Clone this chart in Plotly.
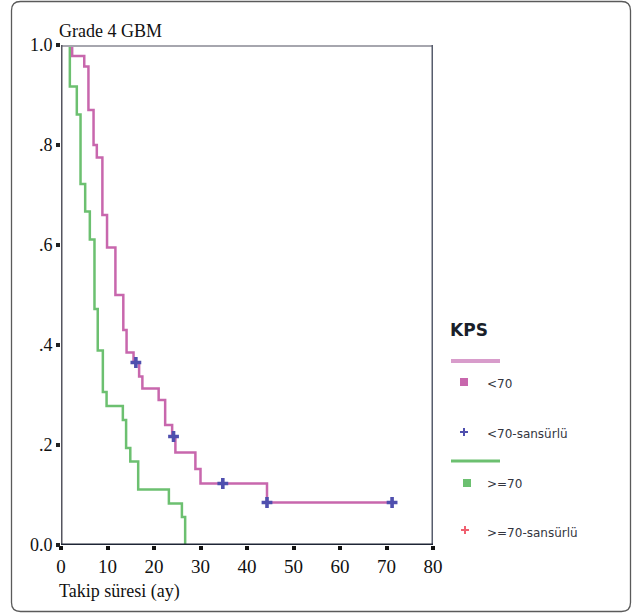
import plotly.graph_objects as go

# ---- data ----
pink_t = [0, 2.4, 5.0, 5.9, 7.0, 7.7, 8.9, 9.9, 11.7, 13.4, 14.1, 15.6, 16.8, 17.5,
          21.0, 22.4, 23.9, 24.6, 28.9, 30.0, 44.3, 71.2]
pink_s = [1.0, 0.978, 0.957, 0.870, 0.800, 0.775, 0.660, 0.595, 0.500, 0.430, 0.385,
          0.365, 0.337, 0.313, 0.290, 0.240, 0.217, 0.185, 0.152, 0.123, 0.085, 0.085]
pink_cens_t = [16.1, 24.2, 34.8, 44.3, 71.2]
pink_cens_s = [0.365, 0.217, 0.123, 0.085, 0.085]

green_t = [0, 1.9, 3.4, 4.2, 5.2, 6.2, 7.2, 7.9, 9.0, 9.8, 13.3, 14.0, 14.9, 16.6,
           23.2, 26.0, 26.7]
green_s = [1.0, 0.917, 0.861, 0.722, 0.667, 0.611, 0.472, 0.389, 0.306, 0.278, 0.250,
           0.194, 0.167, 0.111, 0.083, 0.056, 0.0]

x_ticks = [0, 10, 20, 30, 40, 50, 60, 70, 80]
y_ticks = [0, 0.2, 0.4, 0.6, 0.8, 1.0]
y_ticktext = ["0.0", ".2", ".4", ".6", ".8", "1.0"]

legend_title = "KPS"
legend_labels = ["<70", "<70-sansürlü", ">=70", ">=70-sansürlü"]

PINK = "#c867ad"
GREEN = "#6cc070"
BLUE = "#4f4fae"
RED = "#f06070"
SERIF = "Liberation Serif"

W, H = 642, 614
L, R, T, B = 61, 433, 45, 545


def px(xp):
    return (xp - L) / (R - L)


def py(yp):
    return (B - yp) / (B - T)


fig = go.Figure()
fig.add_trace(go.Scatter(x=green_t, y=green_s, mode="lines", line_shape="hv",
                         line=dict(color=GREEN, width=2.5), showlegend=False))
fig.add_trace(go.Scatter(x=pink_t, y=pink_s, mode="lines", line_shape="hv",
                         line=dict(color=PINK, width=2.5), showlegend=False))
fig.add_trace(go.Scatter(x=pink_cens_t, y=pink_cens_s, mode="markers",
                         marker=dict(symbol="cross", size=9, color=BLUE, line=dict(width=0)),
                         showlegend=False))

shapes = []
# frame lines
shapes.append(dict(type="line", xref="x", yref="y", x0=0, x1=80, y0=1, y1=1,
                   line=dict(color="#a6a6ae", width=4)))
shapes.append(dict(type="line", xref="x", yref="y", x0=80, x1=80, y0=0, y1=1,
                   line=dict(color="#575d6d", width=3)))
shapes.append(dict(type="line", xref="x", yref="y", x0=0, x1=0, y0=0, y1=1.005,
                   line=dict(color="#55555f", width=3)))
shapes.append(dict(type="line", xref="x", yref="y", x0=0, x1=80, y0=0, y1=0,
                   line=dict(color="#1e2535", width=3)))
# outer rounded border
x0, x1, y0, y1, r = px(11.5), px(630.5), py(611.5), py(1.5), 9
rx, ry = r / (R - L), r / (B - T)
path = (f"M {x0+rx},{y1} L {x1-rx},{y1} Q {x1},{y1} {x1},{y1-ry} "
        f"L {x1},{y0+ry} Q {x1},{y0} {x1-rx},{y0} L {x0+rx},{y0} "
        f"Q {x0},{y0} {x0},{y0+ry} L {x0},{y1-ry} Q {x0},{y1} {x0+rx},{y1} Z")
shapes.append(dict(type="path", xref="paper", yref="paper", path=path,
                   line=dict(color="#5a5a5a", width=1.3)))

# manual legend
shapes.append(dict(type="line", xref="paper", yref="paper", x0=px(451), x1=px(500),
                   y0=py(361), y1=py(361), line=dict(color="#d89ccb", width=4)))
shapes.append(dict(type="line", xref="paper", yref="paper", x0=px(451), x1=px(500),
                   y0=py(461), y1=py(461), line=dict(color=GREEN, width=3)))
for cx, cy, col in [(464, 382, PINK), (467, 483, GREEN)]:
    shapes.append(dict(type="rect", xref="paper", yref="paper", x0=px(cx - 4), x1=px(cx + 4),
                       y0=py(cy + 4), y1=py(cy - 4), line=dict(width=0), fillcolor=col))
for cx, cy, col in [(464, 432, BLUE), (465, 530, RED)]:
    shapes.append(dict(type="line", xref="paper", yref="paper", x0=px(cx - 4), x1=px(cx + 4),
                       y0=py(cy), y1=py(cy), line=dict(color=col, width=2)))
    shapes.append(dict(type="line", xref="paper", yref="paper", x0=px(cx), x1=px(cx),
                       y0=py(cy - 4), y1=py(cy + 4), line=dict(color=col, width=2)))

annotations = [
    dict(text="Grade 4 GBM", xref="paper", yref="paper", x=px(57), y=py(31),
         xanchor="left", yanchor="middle", showarrow=False,
         font=dict(family=SERIF, size=18, color="#111")),
    dict(text="Takip süresi (ay)", xref="paper", yref="paper", x=px(57), y=py(591),
         xanchor="left", yanchor="middle", showarrow=False,
         font=dict(family=SERIF, size=18, color="#111")),
    dict(text="<b>" + legend_title + "</b>", xref="paper", yref="paper", x=px(448), y=py(330),
         xanchor="left", yanchor="middle", showarrow=False,
         font=dict(family="DejaVu Sans", size=17, color="#1a1f2a")),
]
for lab, yy in zip(legend_labels, [384, 434, 484, 533]):
    annotations.append(dict(text=lab, xref="paper", yref="paper", x=px(485), y=py(yy),
                            xanchor="left", yanchor="middle", showarrow=False,
                            font=dict(family="DejaVu Sans", size=12, color="#333640")))

fig.update_layout(
    width=W, height=H,
    margin=dict(l=L, r=W - R, t=T, b=H - B, pad=0),
    paper_bgcolor="white", plot_bgcolor="white",
    showlegend=False,
    shapes=shapes, annotations=annotations,
    xaxis=dict(range=[0, 80], tickvals=x_ticks, showgrid=False, zeroline=False,
               showline=False, ticks="outside", ticklen=4, tickwidth=4, tickcolor="#111",
               tickfont=dict(family=SERIF, size=19, color="#111")),
    yaxis=dict(range=[0, 1], tickvals=y_ticks, ticktext=y_ticktext, showgrid=False,
               zeroline=False, showline=False, ticks="outside", ticklen=4, tickwidth=4,
               tickcolor="#222", tickfont=dict(family=SERIF, size=18, color="#111")),
)

fig.write_html("out.html", config={"displayModeBar": False},
               post_script="document.body.style.margin='0';document.body.style.padding='0';")
